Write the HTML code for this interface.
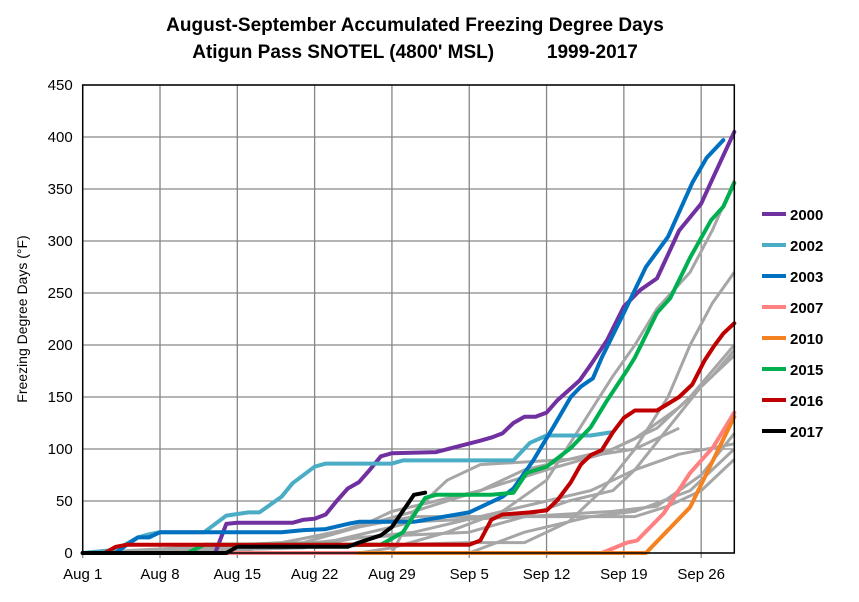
<!DOCTYPE html>
<html><head><meta charset="utf-8"><style>
body{margin:0;background:#fff;font-family:"Liberation Sans",Arial,sans-serif}
svg text{font-family:"Liberation Sans",Arial,sans-serif}
</style></head><body>
<svg id="chart" width="859" height="597" xmlns="http://www.w3.org/2000/svg">
<text x="415" y="31" text-anchor="middle" font-size="19" font-weight="bold">August-September Accumulated Freezing Degree Days</text>
<text x="415" y="58" text-anchor="middle" font-size="19" font-weight="bold" xml:space="preserve">Atigun Pass SNOTEL (4800' MSL)          1999-2017</text>
<text transform="translate(27,319) rotate(-90)" text-anchor="middle" font-size="14">Freezing Degree Days (°F)</text>
<g id="grid"></g><g id="series"></g><g id="axes"></g><g id="legend"></g>
</svg>
<script>
const yTicks=[0,50,100,150,200,250,300,350,400,450];
const xTickDays=[0,7,14,21,28,35,42,49,56];
const xTickLabels=["Aug 1","Aug 8","Aug 15","Aug 22","Aug 29","Sep 5","Sep 12","Sep 19","Sep 26"];
const grayDays=[
[0,25,28,33,38,42,45,48,50,52,55,57,59],
[0,35,40,44,47,50,53,55,57,59],
[0,10,20,30,36,40,44,48,52,55,57,59],
[0,12,30,36,42,46,50,53,56,59],
[0,20,30,40,48,52,56,59],
[0,35,40,46,50,55,59],
[0,28,30,33,36,44,50,52,54],
[0,15,25,30,50,53,56,59],
[0,18,23,26,28,32,36,42,47,50,54,57,59],
[0,20,25,35,40,44,48,50,54,59]];
const grayVals=[
[0,0,5,20,40,70,120,170,200,235,270,310,358],
[0,10,10,30,60,100,150,200,240,270,297],
[0,5,10,40,60,80,90,100,120,150,175,200],
[0,0,20,35,50,60,80,120,160,190],
[0,5,30,35,40,45,75,115],
[0,0,20,35,40,60,100],
[0,0,40,70,85,90,100,110,120],
[0,3,25,35,35,45,60,90],
[0,10,20,30,40,50,60,80,95,110,140,170,195],
[0,5,15,20,35,50,60,80,95,105]];
const seriesNames=["2000","2002","2003","2007","2010","2015","2016","2017"];
const seriesColors=["#7030a0","#4bacc6","#0070c0","#ff8080","#f58220","#00b050","#c00000","#000000"];
const seriesDays=[
[0,12,13,14,19,20,21,22,23,24,25,26,27,28,32,36,37,38,39,40,41,42,43,45,46,47.5,49,50.5,52,54,56,57,59],
[0,3,5,6,7,11,13,15,16,18,19,21,22,28,29,39,40.5,42,46,47.8],
[0,3,4,5,6,7,18,20,22,24,25,30,35,38,39,40.8,42.6,44.2,45.1,46.2,47,49,51,53,55.2,56.5,58],
[0,47,49.3,50.2,52.6,55,57.1,59],
[25,51,55,59],
[0,8,9.5,11,27,29,31,32,37,39,40.2,42,44.2,46,47.5,49.3,50,52,53.2,55,56.9,58,59],
[0,2,3,4,35,36,37,38,40.5,42,43,44.2,45.1,46,47,48,49,50,52,54,55.2,56.3,57.1,58,59],
[0,13,14,24,25,27,28,30,31]];
const seriesVals=[
[0,0,28,29,29,32,33,37,50,62,68,80,93,96,97,108,111,115,125,131,131,135,147,166,181,205,237,253,264,310,336,359,405],
[0,3,15,18,20,20,36,39,39,54,67,83,86,86,89,89,106,113,113,116],
[0,0,8,15,15,20,20,22,23,28,30,30,39,54,62,89,121,150,160,168,188,231,275,304,356,380,397],
[0,0,10,12,38,77,102,135],
[0,0,44,131],
[0,0,0,8,8,20,53,56,56,58,77,83,101,121,147,176,188,231,245,284,320,333,356],
[0,0,6,8,8,12,32,37,39,41,51,68,85,94,99,116,130,137,137,150,162,185,198,211,221],
[0,0,6,6,10,17,25,56,58]];
const L=82.7,R=734.3,T=85,B=553;
const xs=d=>L+d*(R-L)/59, ys=v=>B-v*(B-T)/450;
const NS="http://www.w3.org/2000/svg";
function mk(tag,attrs,parent){const e=document.createElementNS(NS,tag);for(const k in attrs)e.setAttribute(k,attrs[k]);parent.appendChild(e);return e;}
const grid=document.getElementById('grid'),axes=document.getElementById('axes'),ser=document.getElementById('series'),leg=document.getElementById('legend');
yTicks.forEach(v=>{
 const l=mk('line',{x1:L,x2:R,y1:ys(v),y2:ys(v),stroke:'#868686','stroke-width':1.3},grid);
 
 
 const t=mk('text',{x:L-10,y:ys(v)+5,'text-anchor':'end','font-size':15},axes);t.textContent=v;
 
 
});
xTickDays.forEach((d,i)=>{
 const l=mk('line',{x1:xs(d),x2:xs(d),y1:T,y2:B+5,stroke:'#868686','stroke-width':1.3},grid);
 
 
 const t=mk('text',{x:xs(d),y:B+26,'text-anchor':'middle','font-size':15},axes);t.textContent=xTickLabels[i];
 
 
});
const fr=mk('rect',{x:L,y:T,width:R-L,height:B-T,fill:'none',stroke:'#000','stroke-width':1.5},axes);


function pts(ds,vs){return ds.map((d,i)=>xs(d).toFixed(1)+','+ys(vs[i]).toFixed(1)).join(' ');}
grayDays.forEach((ds,i)=>{
 const p=mk('polyline',{points:pts(ds,grayVals[i]),fill:'none',stroke:'#a6a6a6','stroke-width':3,'stroke-linejoin':'round'},ser);
 
 
});
seriesDays.forEach((ds,i)=>{
 const p=mk('polyline',{points:pts(ds,seriesVals[i]),fill:'none',stroke:seriesColors[i],'stroke-width':4,'stroke-linejoin':'round','stroke-linecap':'round'},ser);
 
 
 const y=214+i*31;
 const ll=mk('line',{x1:762,x2:786,y1:y,y2:y,stroke:seriesColors[i],'stroke-width':4},leg);
 
 
 const t=mk('text',{x:790,y:y+6,'font-size':15,'font-weight':'bold'},leg);t.textContent=seriesNames[i];
 
 
});
</script>
</body></html>
